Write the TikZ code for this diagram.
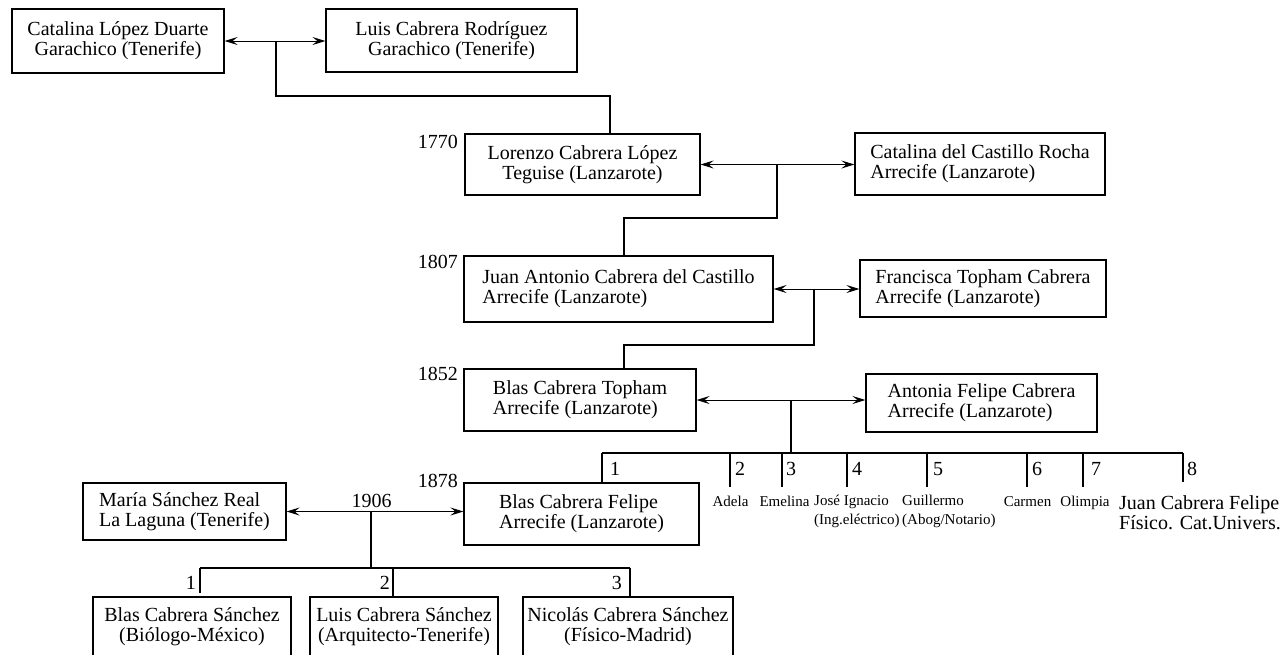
\documentclass[tikz,border=0pt]{standalone}
\usepackage{fontspec}
\setmainfont{Liberation Serif}
\usetikzlibrary{arrows.meta}
\tikzset{
  pbox/.style={draw, line width=1.2pt, inner sep=0pt, font=\fontsize{20}{20}\selectfont},
  smalltxt/.style={font=\fontsize{15}{19}\selectfont, inner sep=0pt},
  bigtxt/.style={font=\fontsize{20}{20}\selectfont, inner sep=0pt},
  link/.style={line width=1.2pt},
  marr/.style={line width=1pt, {Stealth[length=13pt,width=8pt,inset=5pt]}-{Stealth[length=13pt,width=8pt,inset=5pt]}},
}
\begin{document}
\begin{tikzpicture}[x=1pt,y=-1pt]
\useasboundingbox (0,0) rectangle (1283,654);
\clip (0,0) rectangle (1283,654);
% boxes
\node[pbox, align=center, minimum width=212pt, minimum height=64pt] (A) at (118,41) {Catalina López Duarte\\Garachico (Tenerife)};
\node[pbox, align=center, minimum width=251pt, minimum height=63pt] (B) at (451.5,40.5) {Luis Cabrera Rodríguez\\Garachico (Tenerife)};
\node[pbox, align=center, minimum width=235pt, minimum height=61pt] (C) at (582.5,164.5) {Lorenzo Cabrera López\\Teguise (Lanzarote)};
\node[pbox, align=left, minimum width=250pt, minimum height=62pt] (D) at (980,164) {Catalina del Castillo Rocha\\Arrecife (Lanzarote)};
\node[pbox, align=left, minimum width=309pt, minimum height=66pt] (E) at (618.5,289) {Juan Antonio Cabrera del Castillo\\Arrecife (Lanzarote)};
\node[pbox, align=left, minimum width=246pt, minimum height=57pt] (F) at (983,288.5) {Francisca Topham Cabrera\\Arrecife (Lanzarote)};
\node[pbox, align=left, minimum width=232pt, minimum height=62pt] (G) at (580,400) {Blas Cabrera Topham\\Arrecife (Lanzarote)};
\node[pbox, align=left, minimum width=231pt, minimum height=58pt] (H) at (981.5,403) {Antonia Felipe Cabrera\\Arrecife (Lanzarote)};
\node[pbox, align=left, minimum width=235pt, minimum height=62pt] (I) at (581.5,514) {Blas Cabrera Felipe\\Arrecife (Lanzarote)};
\node[pbox, align=left, minimum width=203pt, minimum height=57pt] (J) at (184.5,511.5) {María Sánchez Real\\La Laguna (Tenerife)};
\node[pbox, align=center, minimum width=198pt, minimum height=60pt] (K) at (192,627) {Blas Cabrera Sánchez\\(Biólogo-México)};
\node[pbox, align=center, minimum width=188pt, minimum height=60pt] (L) at (404,627) {Luis Cabrera Sánchez\\(Arquitecto-Tenerife)};
\node[pbox, align=center, minimum width=210pt, minimum height=60pt] (M) at (628,627) {Nicolás Cabrera Sánchez\\(Físico-Madrid)};
% years
\node[bigtxt, anchor=east] (y1770) at (458,142) {1770};
\node[bigtxt, anchor=east] (y1807) at (458,262) {1807};
\node[bigtxt, anchor=east] (y1852) at (458,374) {1852};
\node[bigtxt, anchor=east] (y1878) at (458,481) {1878};
% marriages
\draw[marr] (A.east) -- (A.east -| B.west);
\draw[marr] (C.east) -- (C.east -| D.west);
\draw[marr] (E.east) -- (E.east -| F.west);
\draw[marr] (G.east) -- (G.east -| H.west);
\draw[marr] (J.east) -- (J.east -| I.west);
% descent
\coordinate (ab) at (276,41);
\coordinate (k1) at (610,96);
\draw[link] (ab) |- (k1) -- (k1 |- C.north);
\coordinate (cd) at (777,164.5);
\coordinate (k2) at (624,218);
\draw[link] (cd) |- (k2) -- (k2 |- E.north);
\coordinate (ef) at (814,289);
\coordinate (k3) at (624,345);
\draw[link] (ef) |- (k3) -- (k3 |- G.north);
\coordinate (gh) at (791,400);
% children bar
\coordinate (t1) at (602,453);
\coordinate (t2) at (730,453);
\coordinate (t3) at (782,453);
\coordinate (t4) at (847,453);
\coordinate (t5) at (927,453);
\coordinate (t6) at (1027,453);
\coordinate (t7) at (1083,453);
\coordinate (t8) at (1183,453);
\draw[link] (gh) -- (gh |- t1);
\draw[link] (t1) -- (t8);
\draw[link] (t1) -- (t1 |- I.north);
\foreach \t in {t2,t3,t4,t5,t6,t7} \draw[link] (\t) -- ++(0,34);
\draw[link] (t8) -- ++(0,29);
% child numbers
\node[bigtxt, anchor=west] (n1) at (610,469) {1};
\node[bigtxt, anchor=west] (n2) at (735,469) {2};
\node[bigtxt, anchor=west] (n3) at (786,469) {3};
\node[bigtxt, anchor=west] (n4) at (852,469) {4};
\node[bigtxt, anchor=west] (n5) at (933,469) {5};
\node[bigtxt, anchor=west] (n6) at (1032,469) {6};
\node[bigtxt, anchor=west] (n7) at (1091,469) {7};
\node[bigtxt, anchor=west] (n8) at (1187,469) {8};
% child names
\node[smalltxt, anchor=base] (adela) at (730.5,506) {Adela};
\node[smalltxt, anchor=base] (emelina) at (784.5,506) {Emelina};
\node[smalltxt, anchor=west, align=left] (jose) at (814,511) {José Ignacio\\(Ing.eléctrico)};
\node[smalltxt, anchor=west, align=left] (guillermo) at (902,511) {Guillermo\\(Abog/Notario)};
\node[smalltxt, anchor=base] (carmen) at (1027.5,506) {Carmen};
\node[smalltxt, anchor=base] (olimpia) at (1085,506) {Olimpia};
\node[bigtxt, anchor=west, align=left] (juan) at (1119,513) {Juan Cabrera Felipe\\Físico. Cat.Univers.};
% 1906 family
\node[bigtxt, anchor=base] (y1906) at (371.5,507) {1906};
\coordinate (ji) at (371,511.5);
\coordinate (s1) at (200,568);
\coordinate (s2) at (393,568);
\coordinate (s3) at (630,568);
\draw[link] (ji) -- (ji |- s1);
\draw[link] (s1) -- (s3);
\draw[link] (s1) -- ++(0,25);
\draw[link] (s2) -- (s2 |- L.north);
\draw[link] (s3) -- (s3 |- M.north);
\node[bigtxt, anchor=east] (m1) at (196,583) {1};
\node[bigtxt, anchor=east] (m2) at (390,583) {2};
\node[bigtxt, anchor=east] (m3) at (622,583) {3};
\end{tikzpicture}
\end{document}
